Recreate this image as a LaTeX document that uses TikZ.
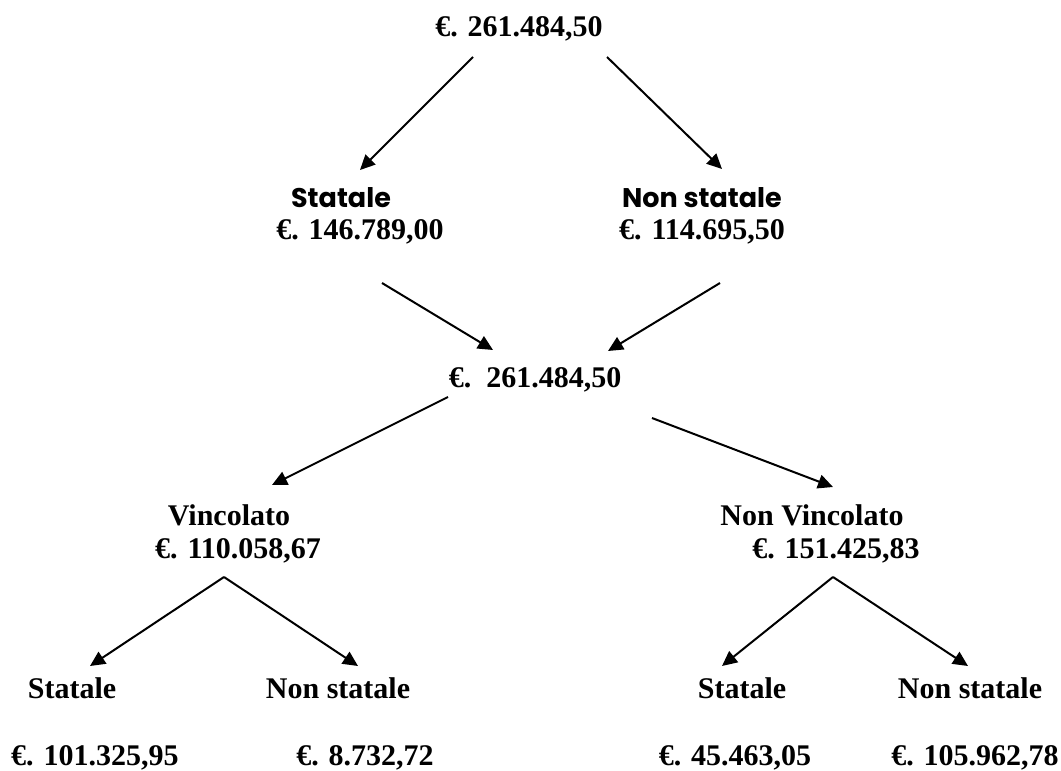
\documentclass[tikz,border=0pt]{standalone}
\usepackage{fontspec}
\setmainfont{Liberation Serif}
\newfontfamily\handfont{Poppins}
\usetikzlibrary{arrows.meta}

\begin{document}
\begin{tikzpicture}[%
    x=0.5pt, y=-0.5pt,                    % one unit is one pixel of the sketch
    >={Triangle[length=7.5pt,width=7pt]}, % Filled heads as in the sketch
    line width=1pt,                       % Same weight for every connector
    ]
\tikzset{
  base/.style={inner sep=0pt, anchor=base, font=\fontsize{15}{18}\selectfont\bfseries},
  amt/.style={base},
  lab/.style={base},
  hand/.style={base, font=\fontsize{13.5}{16}\selectfont\handfont\bfseries},
}
\useasboundingbox (0,0) rectangle (1061,771);

\node [amt] (tot) at (519,36) {€. 261.484,50};
\node [hand] (st) at (341,207) {Statale};
\node [amt] (stv) at (360,239) {€. 146.789,00};
\node [hand] (nst) at (702,207) {Non statale};
\node [amt] (nstv) at (702,239) {€. 114.695,50};

\node [amt] (tot2) at (535,387) {€.\ \ 261.484,50};

\node [lab] (vin) at (229,525) {Vincolato};
\node [amt] (vinv) at (238,558) {€. 110.058,67};
\node [lab] (nvin) at (812,525) {Non Vincolato};
\node [amt] (nvinv) at (836,558) {€. 151.425,83};

\node [lab] (vst) at (72,698) {Statale};
\node [lab] (vnst) at (338,698) {Non statale};
\node [lab] (nvst) at (742,698) {Statale};
\node [lab] (nvnst) at (970,698) {Non statale};

\node [amt] (vstv) at (95,765) {€. 101.325,95};
\node [amt] (vnstv) at (365,765) {€. 8.732,72};
\node [amt] (nvstv) at (735,765) {€. 45.463,05};
\node [amt] (nvnstv) at (975,765) {€. 105.962,78};

%connect
\draw [->] ([shift={(-46,21)}]tot.base) -- ([shift={(19,-37)}]st.base);
\draw [->] ([shift={(88,21)}]tot.base) -- ([shift={(20,-38)}]nst.base);
\draw [->] ([shift={(22,44)}]stv.base) -- ([shift={(-42,-37)}]tot2.base);
\draw [->] ([shift={(18,44)}]nstv.base) -- ([shift={(73,-36)}]tot2.base);
\draw [->] ([shift={(-87,10)}]tot2.base) -- ([shift={(43,-40)}]vin.base);
\draw [->] ([shift={(117,31)}]tot2.base) -- ([shift={(21,-38)}]nvin.base);
\draw [->] ([shift={(-14,19)}]vinv.base) -- ([shift={(18,-32)}]vst.base);
\draw [->] ([shift={(-14,19)}]vinv.base) -- ([shift={(20,-32)}]vnst.base);
\draw [->] ([shift={(-3,19)}]nvinv.base) -- ([shift={(-20,-32)}]nvst.base);
\draw [->] ([shift={(-3,19)}]nvinv.base) -- ([shift={(-2,-32)}]nvnst.base);

\end{tikzpicture}
\end{document}
